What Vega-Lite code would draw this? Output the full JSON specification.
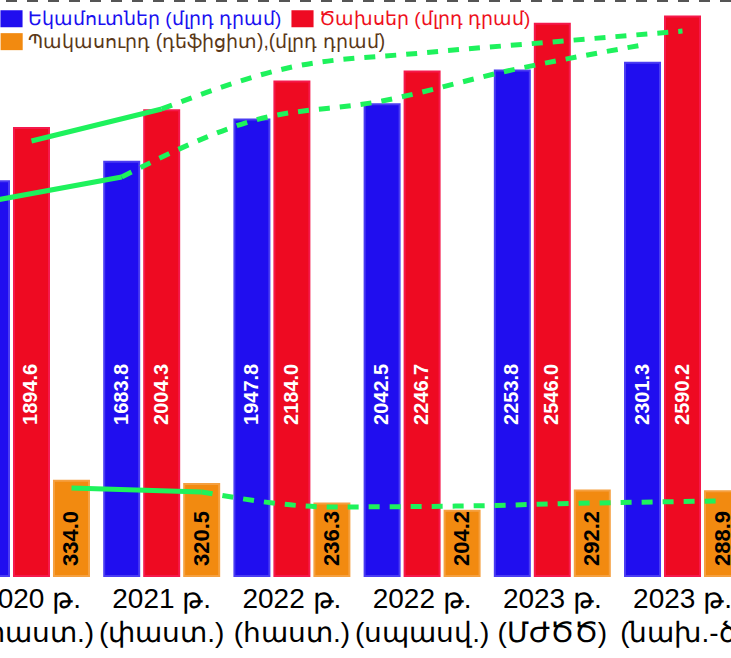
{
"$schema": "https://vega.github.io/schema/vega-lite/v6.json",
"width": 731,
"height": 576,
"autosize": {"type": "none"},
"padding": {"left": 0, "top": 0, "right": 0, "bottom": 82},
"background": "white",
"config": {"view": {"stroke": null}, "font": "Liberation Sans"},
"data": {"values": [
{"cat": "2020 թ.|(փաստ.)", "series": "Եկամուտներ (մլրդ դրամ)", "value": 1560.6, "trend": 1438},
{"cat": "2020 թ.|(փաստ.)", "series": "Ծախսեր (մլրդ դրամ)", "value": 1894.6, "trend": 1813},
{"cat": "2020 թ.|(փաստ.)", "series": "Պակասուրդ (դեֆիցիտ),(մլրդ դրամ)", "value": 334.0, "trend": 303},
{"cat": "2021 թ.|(փաստ.)", "series": "Եկամուտներ (մլրդ դրամ)", "value": 1683.8, "trend": 1588},
{"cat": "2021 թ.|(փաստ.)", "series": "Ծախսեր (մլրդ դրամ)", "value": 2004.3, "trend": 2013},
{"cat": "2021 թ.|(փաստ.)", "series": "Պակասուրդ (դեֆիցիտ),(մլրդ դրամ)", "value": 320.5, "trend": 286},
{"cat": "2022 թ.|(հաստ.)", "series": "Եկամուտներ (մլրդ դրամ)", "value": 1947.8, "trend": 1938},
{"cat": "2022 թ.|(հաստ.)", "series": "Ծախսեր (մլրդ դրամ)", "value": 2184.0, "trend": 2275},
{"cat": "2022 թ.|(հաստ.)", "series": "Պակասուրդ (դեֆիցիտ),(մլրդ դրամ)", "value": 236.3, "trend": 221},
{"cat": "2022 թ.|(սպասվ.)", "series": "Եկամուտներ (մլրդ դրամ)", "value": 2042.5, "trend": 2063},
{"cat": "2022 թ.|(սպասվ.)", "series": "Ծախսեր (մլրդ դրամ)", "value": 2246.7, "trend": 2363},
{"cat": "2022 թ.|(սպասվ.)", "series": "Պակասուրդ (դեֆիցիտ),(մլրդ դրամ)", "value": 204.2, "trend": 225},
{"cat": "2023 թ.|(ՄԺԾԾ)", "series": "Եկամուտներ (մլրդ դրամ)", "value": 2253.8, "trend": 2257},
{"cat": "2023 թ.|(ՄԺԾԾ)", "series": "Ծախսեր (մլրդ դրամ)", "value": 2546.0, "trend": 2432},
{"cat": "2023 թ.|(ՄԺԾԾ)", "series": "Պակասուրդ (դեֆիցիտ),(մլրդ դրամ)", "value": 292.2, "trend": 238},
{"cat": "2023 թ.|(նախ.-ծ)", "series": "Եկամուտներ (մլրդ դրամ)", "value": 2301.3, "trend": 2413},
{"cat": "2023 թ.|(նախ.-ծ)", "series": "Ծախսեր (մլրդ դրամ)", "value": 2590.2, "trend": 2500},
{"cat": "2023 թ.|(նախ.-ծ)", "series": "Պակասուրդ (դեֆիցիտ),(մլրդ դրամ)", "value": 288.9, "trend": 247}
]},
"layer": [
{
"transform": [{"filter": "datum.series != 'Պակասուրդ (դեֆիցիտ),(մլրդ դրամ)'"}],
"layer": [
{
"mark": {"type": "bar", "strokeWidth": 2},
"encoding": {
"x": {"field": "cat", "type": "nominal", "sort": null, "scale": {"domain": ["2020 թ.|(փաստ.)", "2021 թ.|(փաստ.)", "2022 թ.|(հաստ.)", "2022 թ.|(սպասվ.)", "2023 թ.|(ՄԺԾԾ)", "2023 թ.|(նախ.-ծ)"], "range": [-26, 740], "paddingInner": 0.117, "paddingOuter": 0},
"axis": {"title": null, "domain": false, "ticks": false, "labelAngle": 0, "labelFontSize": 28, "labelFont": "Liberation Sans", "labelLineHeight": 34, "labelPadding": 9, "labelBaseline": "top", "labelExpr": "split(datum.label, '|')", "labelOverlap": false, "labelBound": false, "labelFlush": false,
"encode": {"labels": {"update": {"fill": {"signal": "datum.value == '2023 թ.|(ՄԺԾԾ)' ? '#1b5e20' : '#000000'"}}}}}},
"xOffset": {"field": "series", "type": "nominal", "scale": {"domain": ["Եկամուտներ (մլրդ դրամ)", "Ծախսեր (մլրդ դրամ)", "Պակասուրդ (դեֆիցիտ),(մլրդ դրամ)"], "paddingInner": 0.125, "paddingOuter": 0}},
"y": {"field": "value", "type": "quantitative", "scale": {"domain": [-906, 2694]}, "axis": null},
"y2": {"datum": -906},
"color": {"field": "series", "type": "nominal", "scale": {"domain": ["Եկամուտներ (մլրդ դրամ)", "Ծախսեր (մլրդ դրամ)"], "range": ["#200eef", "#ee0a22"]},
"legend": {"orient": "none", "legendX": 2, "legendY": 9, "direction": "horizontal", "title": null, "labelFontSize": 19, "labelFont": "Liberation Sans", "symbolType": "M-1.3,-1H1.3V1H-1.3Z", "symbolSize": 289, "symbolStrokeWidth": 0, "symbolOpacity": 1, "labelOffset": 7, "columnPadding": 9, "labelLimit": 400, "padding": 0,
"encode": {"labels": {"update": {"fill": {"signal": "datum.label == 'Եկամուտներ (մլրդ դրամ)' ? '#1a10f0' : '#ee1020'"}}}}}},
"stroke": {"field": "series", "type": "nominal", "scale": {"domain": ["Եկամուտներ (մլրդ դրամ)", "Ծախսեր (մլրդ դրամ)", "Պակասուրդ (դեֆիցիտ),(մլրդ դրամ)"], "range": ["#4a3cf2", "#f5194b", "#f5a040"]}, "legend": null}
}
},
{
"mark": {"type": "text", "angle": -90, "align": "left", "baseline": "middle", "fontWeight": "bold", "fontSize": 20, "fill": "white", "font": "Liberation Sans"},
"encoding": {
"x": {"field": "cat", "type": "nominal", "sort": null},
"xOffset": {"field": "series", "type": "nominal"},
"y": {"datum": 38, "type": "quantitative", "scale": {"domain": [-906, 2694]}, "axis": null},
"text": {"field": "value", "type": "quantitative", "format": ".1f"}
}
},
{
"transform": [{"filter": "datum.cat == '2020 թ.|(փաստ.)' || datum.cat == '2021 թ.|(փաստ.)'"}],
"mark": {"type": "line", "color": "#1ef25c", "strokeWidth": 5},
"encoding": {
"x": {"field": "cat", "type": "nominal", "sort": null},
"xOffset": {"field": "series", "type": "nominal"},
"y": {"field": "trend", "type": "quantitative", "scale": {"domain": [-906, 2694]}, "axis": null},
"detail": {"field": "series", "type": "nominal"}
}
},
{
"transform": [{"filter": "datum.cat != '2020 թ.|(փաստ.)'"}],
"mark": {"type": "line", "color": "#1ef25c", "strokeWidth": 5, "strokeDash": [11, 10], "interpolate": "monotone"},
"encoding": {
"x": {"field": "cat", "type": "nominal", "sort": null},
"xOffset": {"field": "series", "type": "nominal"},
"y": {"field": "trend", "type": "quantitative", "scale": {"domain": [-906, 2694]}, "axis": null},
"detail": {"field": "series", "type": "nominal"}
}
},
{
"transform": [{"filter": "datum.cat == '2020 թ.|(փաստ.)' && datum.series == 'Եկամուտներ (մլրդ դրամ)'"}],
"mark": {"type": "rule", "color": "#555555", "strokeWidth": 4, "strokeDash": [11, 10]},
"encoding": {
"y": {"datum": 2694, "type": "quantitative", "scale": {"domain": [-906, 2694]}, "axis": null}
}
}
]
},
{
"transform": [{"filter": "datum.series == 'Պակասուրդ (դեֆիցիտ),(մլրդ դրամ)'"}],
"layer": [
{
"mark": {"type": "bar", "strokeWidth": 2},
"encoding": {
"x": {"field": "cat", "type": "nominal", "sort": null},
"xOffset": {"field": "series", "type": "nominal"},
"y": {"field": "value", "type": "quantitative", "scale": {"domain": [-78, 2416]}, "axis": null},
"y2": {"datum": -78},
"color": {"field": "series", "type": "nominal", "scale": {"domain": ["Պակասուրդ (դեֆիցիտ),(մլրդ դրամ)"], "range": ["#f28a10"]},
"legend": {"orient": "none", "legendX": 2, "legendY": 32, "title": null, "labelFontSize": 19.3, "labelFont": "Liberation Sans", "labelColor": "#5a3818", "symbolType": "M-1.3,-1H1.3V1H-1.3Z", "symbolSize": 289, "symbolStrokeWidth": 0, "symbolOpacity": 1, "labelOffset": 7, "labelLimit": 500, "padding": 0}},
"stroke": {"field": "series", "type": "nominal", "legend": null}
}
},
{
"mark": {"type": "text", "angle": -90, "align": "left", "baseline": "middle", "fontWeight": "bold", "fontSize": 22, "fill": "black", "font": "Liberation Sans"},
"encoding": {
"x": {"field": "cat", "type": "nominal", "sort": null},
"xOffset": {"field": "series", "type": "nominal"},
"y": {"datum": -35, "type": "quantitative", "scale": {"domain": [-78, 2416]}, "axis": null},
"text": {"field": "value", "type": "quantitative", "format": ".1f"}
}
},
{
"transform": [{"filter": "datum.cat == '2020 թ.|(փաստ.)' || datum.cat == '2021 թ.|(փաստ.)'"}],
"mark": {"type": "line", "color": "#1ef25c", "strokeWidth": 5},
"encoding": {
"x": {"field": "cat", "type": "nominal", "sort": null},
"xOffset": {"field": "series", "type": "nominal"},
"y": {"field": "trend", "type": "quantitative", "scale": {"domain": [-78, 2416]}, "axis": null}
}
},
{
"transform": [{"filter": "datum.cat != '2020 թ.|(փաստ.)'"}],
"mark": {"type": "line", "color": "#1ef25c", "strokeWidth": 5, "strokeDash": [11, 10], "interpolate": "monotone"},
"encoding": {
"x": {"field": "cat", "type": "nominal", "sort": null},
"xOffset": {"field": "series", "type": "nominal"},
"y": {"field": "trend", "type": "quantitative", "scale": {"domain": [-78, 2416]}, "axis": null}
}
}
]
}
],
"resolve": {"scale": {"y": "independent", "color": "independent"}}
}
